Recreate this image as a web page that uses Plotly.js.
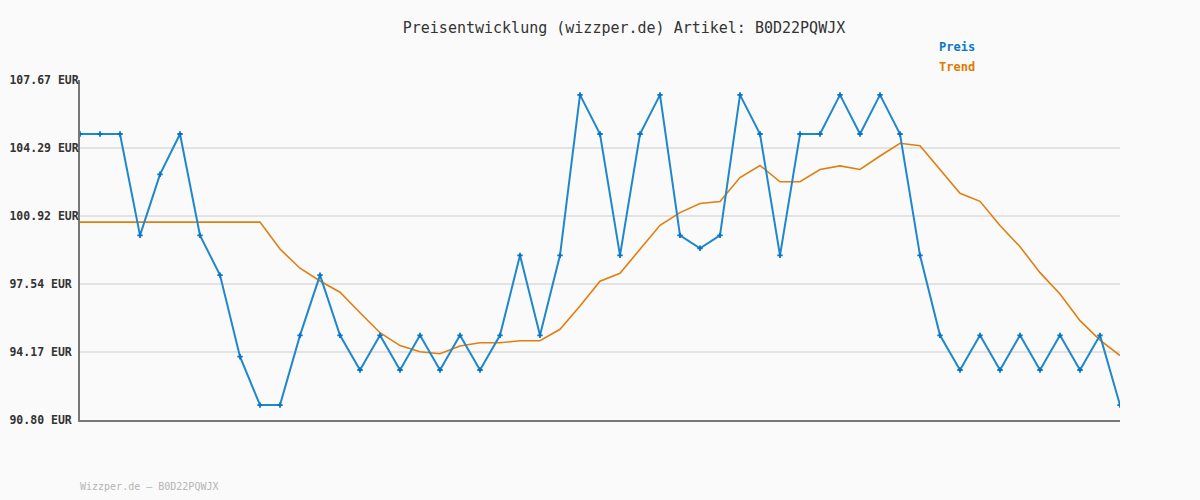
<!DOCTYPE html>
<html>
<head>
<meta charset="utf-8">
<script src="https://cdn.plot.ly/plotly-3.0.1.min.js"></script>
<style>html,body{margin:0;padding:0;background:#fafafa;}#chart{width:1200px;height:500px;}</style>
</head>
<body>
<div id="chart"></div>
<script>
const preis = [104.99,104.99,104.99,99.96,102.99,104.99,99.96,97.99,93.94,91.54,
  91.54,95.00,97.99,95.00,93.28,95.00,93.28,95.00,93.28,95.00,
  93.28,95.00,98.97,95.00,98.97,106.93,104.99,98.97,104.99,106.93,
  99.96,99.32,99.96,106.93,104.99,98.97,104.99,104.99,106.93,104.99,
  106.93,104.99,98.97,95.00,93.28,95.00,93.28,95.00,93.28,95.00,
  93.28,95.00,91.54];
const trend = [100.62,100.62,100.62,100.62,100.62,100.62,100.62,100.62,100.62,100.62,
  99.28,98.33,97.70,97.14,96.12,95.13,94.49,94.19,94.09,94.47,
  94.63,94.63,94.73,94.73,95.30,96.46,97.69,98.08,99.27,100.46,
  101.09,101.54,101.64,102.83,103.43,102.62,102.62,103.23,103.41,103.23,
  103.90,104.53,104.41,103.25,102.05,101.65,100.45,99.40,98.11,97.05,
  95.73,94.76,94.00];
const tickVals = [90.80,94.17,97.54,100.92,104.29,107.67];
const tickText = ["90.80 EUR","94.17 EUR","97.54 EUR","100.92 EUR","104.29 EUR","107.67 EUR"];
const titleText = "Preisentwicklung (wizzper.de) Artikel: B0D22PQWJX";
const footerText = "Wizzper.de – B0D22PQWJX";
const xs = preis.map((_, i) => i);

const blue = '#1f87cc';
const orange = '#e07f0f';
const mono = 'DejaVu Sans Mono, monospace';

// left-align tick labels by padding with non-breaking spaces
const maxLen = Math.max(...tickText.map(t => t.length));
const paddedTicks = tickText.map(t => t + '\u00a0'.repeat(maxLen - t.length));

Plotly.newPlot('chart', [
  {x: xs, y: trend, type: 'scatter', mode: 'lines', name: 'Trend',
   line: {color: orange, width: 1.6}, hoverinfo: 'skip'},
  {x: xs, y: preis, type: 'scatter', mode: 'lines+markers', name: 'Preis',
   line: {color: blue, width: 2}, marker: {symbol: 'cross', size: 4.5, color: '#0a74c4'}}
], {
  width: 1200, height: 500,
  paper_bgcolor: '#fafafa', plot_bgcolor: '#fafafa',
  margin: {l: 80, r: 80, t: 80, b: 80},
  showlegend: false,
  title: {text: titleText, x: 0.52, xanchor: 'center', y: 0.944, yanchor: 'middle',
          font: {family: mono, size: 15, color: '#333'}},
  xaxis: {range: [0, xs.length - 1], showgrid: false, zeroline: false, showticklabels: false,
          ticks: '', showline: true, linecolor: '#777', linewidth: 2},
  yaxis: {range: [90.80, 107.67], tickvals: tickVals, ticktext: paddedTicks,
          showgrid: true, gridcolor: '#e3e3e3', gridwidth: 2, zeroline: false,
          showline: true, linecolor: '#777', linewidth: 2, ticks: '', ticklabelstandoff: -3,
          tickfont: {family: mono, size: 11.5, color: '#333', weight: 'bold'}},
  annotations: [
    {text: '<b>Preis</b>', xref: 'paper', yref: 'paper', x: 0.8245, y: 1.098, xanchor: 'left', yanchor: 'middle',
     showarrow: false, font: {family: mono, size: 12, color: '#0a78c8'}},
    {text: '<b>Trend</b>', xref: 'paper', yref: 'paper', x: 0.8245, y: 1.039, xanchor: 'left', yanchor: 'middle',
     showarrow: false, font: {family: mono, size: 12, color: '#e07b00'}},
    {text: footerText, xref: 'paper', yref: 'paper', x: 0, y: -0.197, xanchor: 'left', yanchor: 'middle',
     xshift: -2, showarrow: false, font: {family: mono, size: 10, color: '#b5b5b5'}}
  ]
}, {displayModeBar: false, staticPlot: true});
</script>
</body>
</html>
